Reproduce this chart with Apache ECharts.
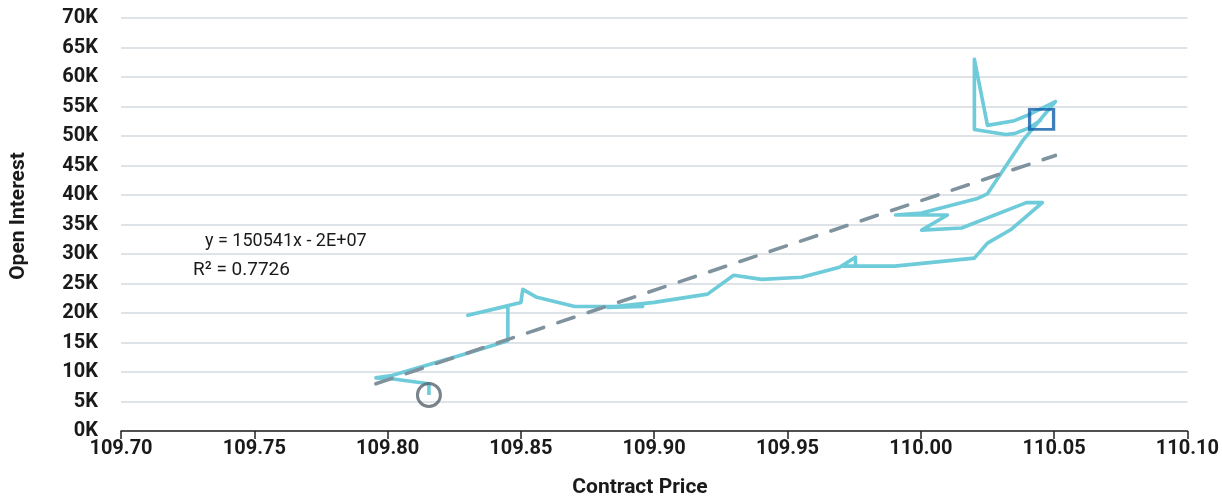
<!DOCTYPE html>
<html>
<head>
<meta charset="utf-8">
<script src="https://cdn.jsdelivr.net/npm/echarts@6/dist/echarts.min.js"></script>
<style>
html,body{margin:0;padding:0;background:#fff;overflow:hidden;}
#chart{width:1222px;height:499px;}
</style>
</head>
<body>
<div id="chart"></div>
<script>
// Contract price (x) and open interest (y), in time order
const prices = [
  109.8155, 109.8155, 109.8008, 109.7956, 109.8016, 109.8293, 109.8451, 109.8451,
  109.8301, 109.8500, 109.8507, 109.8560, 109.8702, 109.8957, 109.8826, 109.9000,
  109.9200, 109.9298, 109.9403, 109.9553, 109.9695, 109.9755, 109.9755, 109.9707,
  109.9902, 110.0201, 110.0250, 110.0340, 110.0456, 110.0396, 110.0153, 110.0003,
  110.0100, 109.9905, 110.0003, 110.0209, 110.0250, 110.0382, 110.0505, 110.0408,
  110.0351, 110.0250, 110.0201, 110.0201, 110.0318, 110.0351, 110.0408, 110.0453
];
const openInterest = [
  6100, 8000, 8900, 9000, 9400, 13100, 15300, 21200,
  19600, 21800, 24000, 22650, 21100, 21100, 20950, 21800,
  23200, 26400, 25700, 26050, 27750, 29450, 27950, 27950,
  27950, 29300, 31850, 34200, 38700, 38700, 34400, 34050,
  36600, 36600, 36950, 39350, 40200, 49200, 55850, 53650,
  52600, 51800, 63000, 51100, 50250, 50400, 51400, 52800
];
// Linear trend line endpoints (y = 150541x - 2E+07)
const trendX = [109.7956, 110.0505];
const trendY = [8000, 46700];
// Axis ticks
const xMin = 109.70, xMax = 110.10, xStep = 0.05;
const yMin = 0, yMax = 70000, yStep = 5000;
const xTitle = 'Contract Price';
const yTitle = 'Open Interest';
const eqText = 'y = 150541x - 2E+07';
const r2Text = 'R\u00B2 = 0.7726';

const lineData = prices.map((p, i) => [p, openInterest[i]]);
const trendData = trendX.map((p, i) => [p, trendY[i]]);
const startPt = lineData[0];
const endPt = lineData[lineData.length - 1];

const chart = echarts.init(document.getElementById('chart'), null, {renderer: 'canvas', width: 1222, height: 499});
const font = 'Roboto, "DejaVu Sans", sans-serif';
const txt = '#1a1a1a';
chart.setOption({
  animation: false,
  backgroundColor: '#ffffff',
  grid: {left: 121, right: 34, top: 18, bottom: 68, containLabel: false},
  xAxis: {
    type: 'value', min: xMin, max: xMax, interval: xStep,
    axisLine: {show: true, lineStyle: {color: '#222', width: 1.5}},
    axisTick: {show: true, length: 8, lineStyle: {color: '#222', width: 1.5}},
    splitLine: {show: false},
    axisLabel: {fontFamily: font, fontWeight: 'bold', fontSize: 20, color: txt, margin: 8,
      formatter: v => v.toFixed(2)}
  },
  yAxis: {
    type: 'value', min: yMin, max: yMax, interval: yStep,
    axisLine: {show: false}, axisTick: {show: false},
    splitLine: {show: true, lineStyle: {color: '#d3dae0', width: 1.5}},
    axisLabel: {fontFamily: font, fontWeight: 'bold', fontSize: 20, color: txt, margin: 23,
      formatter: v => (v / 1000) + 'K'}
  },
  series: [
    {
      type: 'line', data: lineData, showSymbol: false, symbol: 'none',
      lineStyle: {color: '#6ecbd9', width: 3.6, join: 'round'}, z: 2
    },
    {
      type: 'line', data: trendData, showSymbol: false, symbol: 'none',
      lineStyle: {color: '#7f939e', width: 3.6, type: [17, 15], cap: 'round'}, z: 3
    },
    {
      type: 'scatter', data: [startPt], symbol: 'circle', symbolSize: 23,
      itemStyle: {color: 'rgba(0,0,0,0)', borderColor: '#56646e', borderWidth: 3}, z: 4
    },
    {
      type: 'scatter', data: [endPt], symbol: 'rect', symbolSize: [24, 20],
      itemStyle: {color: 'rgba(0,0,0,0)', borderColor: '#0f5ea8', borderWidth: 3}, z: 4
    }
  ],
  graphic: [
    {type: 'text', x: 205, y: 241, style: {text: eqText, fontSize: 18, fontFamily: font, fill: txt, verticalAlign: 'middle', align: 'left'}},
    {type: 'text', x: 193, y: 270, style: {text: r2Text, fontSize: 19, fontFamily: font, fill: txt, verticalAlign: 'middle', align: 'left'}},
    {type: 'text', x: 640, y: 488, style: {text: xTitle, fontSize: 21, fontWeight: 'bold', fontFamily: font, fill: txt, verticalAlign: 'middle', align: 'center'}},
    {type: 'text', x: 19, y: 216, rotation: Math.PI / 2, style: {text: yTitle, fontSize: 21, fontWeight: 'bold', fontFamily: font, fill: txt, verticalAlign: 'middle', align: 'center'}}
  ]
});
</script>
</body>
</html>
